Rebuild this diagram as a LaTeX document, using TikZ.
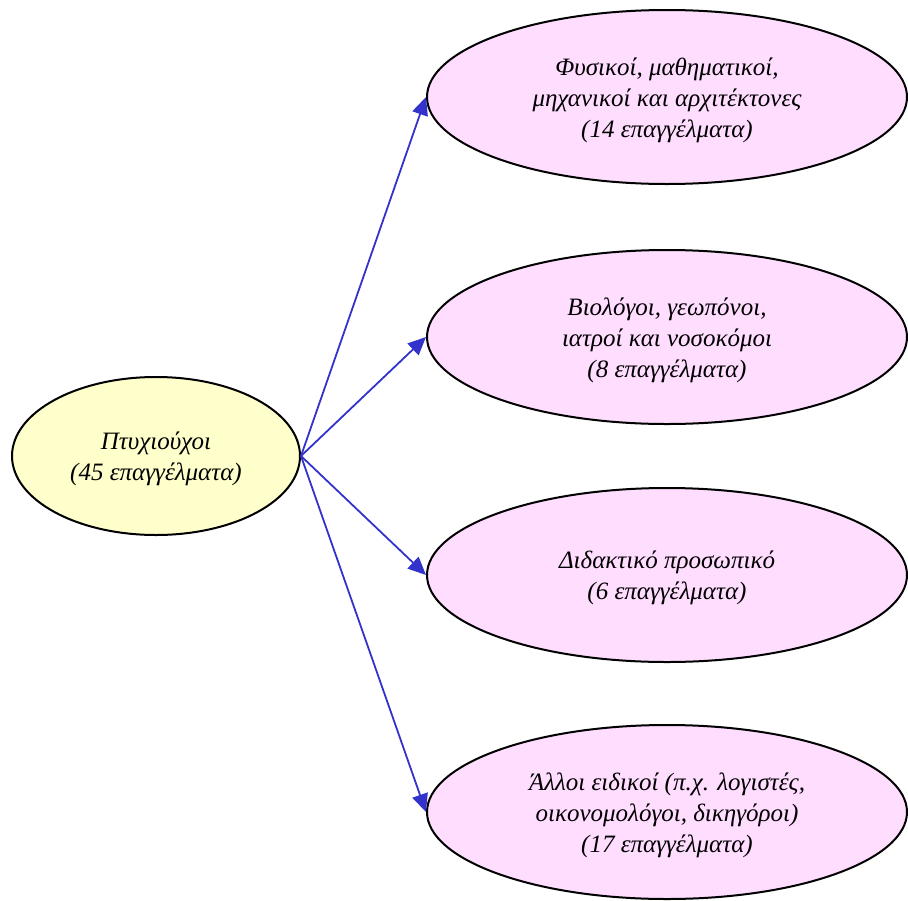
\documentclass[tikz,border=0pt]{standalone}
\usepackage{fontspec}
\setmainfont{Liberation Serif}
\usetikzlibrary{shapes.geometric,arrows.meta}
\definecolor{rootfill}{HTML}{FFFFCC}
\definecolor{leaffill}{HTML}{FFDDFF}
\definecolor{arrowblue}{HTML}{3333CC}
\newcommand{\topstrut}{\rule{0pt}{24pt}}
\begin{document}
\begin{tikzpicture}[x=1pt,y=-1pt,
  bubble/.style={ellipse,draw=black,line width=2pt,inner sep=0pt,align=center,
    font=\fontsize{25}{31}\selectfont\itshape},
  rootnode/.style={bubble,fill=rootfill,minimum width=288pt,minimum height=158pt},
  leafnode/.style={bubble,fill=leaffill,minimum width=480pt,minimum height=174pt},
  link/.style={draw=arrowblue,line width=1.8pt,-{Triangle[length=18pt,width=16pt]}}]
\useasboundingbox (0,0) rectangle (908,900);
\node[rootnode] (root) at (156,456) {\topstrut Πτυχιούχοι\\(45 επαγγέλματα)};
\node[leafnode] (a) at (667,97) {\topstrut Φυσικοί, μαθηματικοί,\\μηχανικοί και αρχιτέκτονες\\(14 επαγγέλματα)};
\node[leafnode] (b) at (667,337) {\topstrut Βιολόγοι, γεωπόνοι,\\ιατροί και νοσοκόμοι\\(8 επαγγέλματα)};
\node[leafnode] (c) at (667,575) {\topstrut Διδακτικό προσωπικό\\(6 επαγγέλματα)};
\node[leafnode] (d) at (667,812) {\topstrut Άλλοι ειδικοί (π.χ. λογιστές,\\οικονομολόγοι, δικηγόροι)\\(17 επαγγέλματα)};
\draw[link] (root.east) -- (a.west);
\draw[link] (root.east) -- (b.west);
\draw[link] (root.east) -- (c.west);
\draw[link] (root.east) -- (d.west);
\end{tikzpicture}
\end{document}
